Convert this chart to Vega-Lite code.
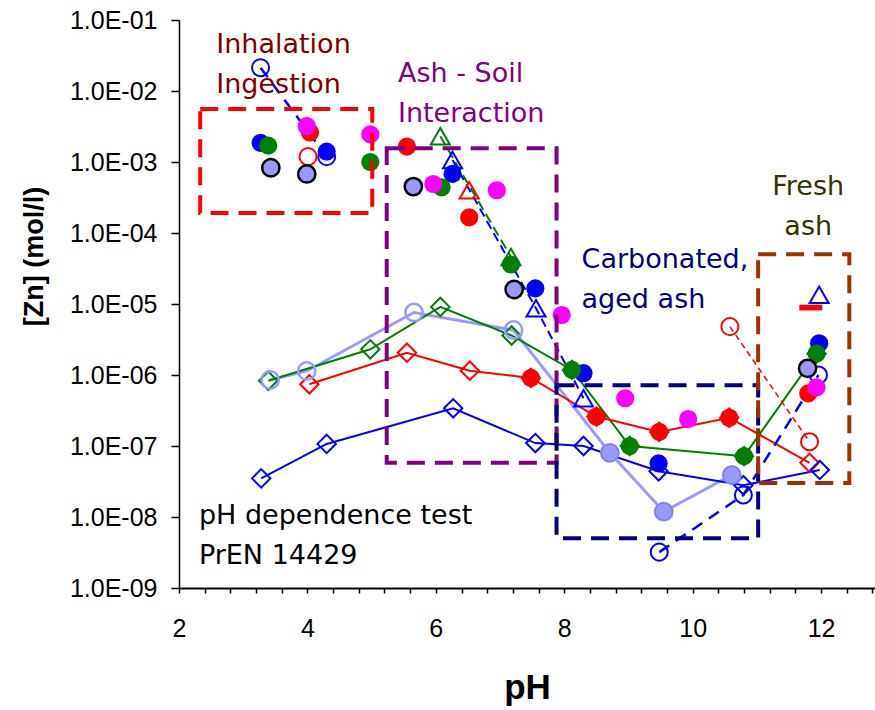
{
  "$schema": "https://vega.github.io/schema/vega-lite/v6.json",
  "width": 696,
  "height": 568,
  "autosize": {"type": "none"},
  "padding": {"left": 179, "top": 20, "right": 0, "bottom": 122},
  "background": "white",
  "config": {"view": {"stroke": null}, "font": "Liberation Sans"},
  "resolve": {"scale": {"color": "independent", "stroke": "independent"}},
  "datasets": {
    "obs": [
      {"series": "red_diamond", "seg": "a", "pH": 4.03, "zn": 7.4e-7},
      {"series": "red_diamond", "seg": "a", "pH": 5.55, "zn": 2.06e-6},
      {"series": "red_diamond", "seg": "a", "pH": 6.53, "zn": 1.15e-6},
      {"series": "red_diamond", "seg": "a", "pH": 7.48, "zn": 9.1e-7},
      {"series": "red_diamond", "seg": "a", "pH": 8.50, "zn": 2.6e-7},
      {"series": "red_diamond", "seg": "a", "pH": 9.48, "zn": 1.58e-7},
      {"series": "red_diamond", "seg": "a", "pH": 10.57, "zn": 2.5e-7},
      {"series": "red_diamond", "seg": "a", "pH": 11.82, "zn": 5.8e-8},
      {"series": "green_diamond", "seg": "a", "pH": 3.39, "zn": 8.3e-7},
      {"series": "green_diamond", "seg": "a", "pH": 4.98, "zn": 2.3e-6},
      {"series": "green_diamond", "seg": "a", "pH": 6.07, "zn": 9.1e-6},
      {"series": "green_diamond", "seg": "a", "pH": 7.18, "zn": 3.6e-6},
      {"series": "green_diamond", "seg": "a", "pH": 8.12, "zn": 1.18e-6},
      {"series": "green_diamond", "seg": "a", "pH": 9.02, "zn": 1.0e-7},
      {"series": "green_diamond", "seg": "a", "pH": 10.80, "zn": 7.2e-8},
      {"series": "green_diamond", "seg": "a", "pH": 11.93, "zn": 2.0e-6},
      {"series": "blue_diamond", "seg": "a", "pH": 3.28, "zn": 3.5e-8},
      {"series": "blue_diamond", "seg": "a", "pH": 4.30, "zn": 1.07e-7},
      {"series": "blue_diamond", "seg": "a", "pH": 6.27, "zn": 3.4e-7},
      {"series": "blue_diamond", "seg": "a", "pH": 7.55, "zn": 1.1e-7},
      {"series": "blue_diamond", "seg": "a", "pH": 8.30, "zn": 1.0e-7},
      {"series": "blue_diamond", "seg": "a", "pH": 9.47, "zn": 4.4e-8},
      {"series": "blue_diamond", "seg": "a", "pH": 10.79, "zn": 2.8e-8},
      {"series": "blue_diamond", "seg": "a", "pH": 11.98, "zn": 4.6e-8},
      {"series": "lavender_open", "seg": "a", "pH": 3.42, "zn": 8.5e-7},
      {"series": "lavender_open", "seg": "a", "pH": 3.99, "zn": 1.14e-6},
      {"series": "lavender_open", "seg": "a", "pH": 5.66, "zn": 7.6e-6},
      {"series": "lavender_open", "seg": "a", "pH": 7.21, "zn": 4.3e-6},
      {"series": "lavender_open", "seg": "a", "pH": 8.71, "zn": 8.0e-8},
      {"series": "lavender_open", "seg": "a", "pH": 9.55, "zn": 1.19e-8},
      {"series": "lavender_open", "seg": "a", "pH": 10.61, "zn": 3.9e-8},
      {"series": "lavender_filled", "seg": "a", "pH": 8.71, "zn": 8.0e-8},
      {"series": "lavender_filled", "seg": "a", "pH": 9.55, "zn": 1.19e-8},
      {"series": "lavender_filled", "seg": "a", "pH": 10.61, "zn": 3.9e-8},
      {"series": "blue_open_circle", "seg": "a", "pH": 3.27, "zn": 2.13e-2},
      {"series": "blue_open_circle", "seg": "a", "pH": 4.30, "zn": 1.19e-3},
      {"series": "blue_open_circle", "seg": "b", "pH": 9.48, "zn": 3.2e-9},
      {"series": "blue_open_circle", "seg": "b", "pH": 10.79, "zn": 2.04e-8},
      {"series": "blue_open_circle", "seg": "b", "pH": 11.96, "zn": 1.0e-6},
      {"series": "red_open_circle", "seg": "a", "pH": 4.01, "zn": 1.19e-3},
      {"series": "red_open_circle", "seg": "b", "pH": 10.58, "zn": 4.8e-6},
      {"series": "red_open_circle", "seg": "b", "pH": 11.82, "zn": 1.15e-7},
      {"series": "blue_triangle", "seg": "a", "pH": 6.26, "zn": 1.07e-3},
      {"series": "blue_triangle", "seg": "a", "pH": 7.56, "zn": 8.7e-6},
      {"series": "blue_triangle", "seg": "a", "pH": 8.30, "zn": 4.7e-7},
      {"series": "blue_triangle", "seg": "b", "pH": 11.97, "zn": 1.35e-5},
      {"series": "green_triangle", "seg": "a", "pH": 6.07, "zn": 2.3e-3},
      {"series": "green_triangle", "seg": "a", "pH": 7.17, "zn": 4.6e-5},
      {"series": "red_triangle", "seg": "a", "pH": 6.52, "zn": 4.0e-4},
      {"series": "red_dash", "seg": "a", "pH": 11.84, "zn": 8.9e-6},
      {"series": "blue_filled", "seg": "a", "pH": 3.27, "zn": 1.86e-3},
      {"series": "blue_filled", "seg": "a", "pH": 4.30, "zn": 1.4e-3},
      {"series": "blue_filled", "seg": "a", "pH": 6.26, "zn": 6.8e-4},
      {"series": "blue_filled", "seg": "a", "pH": 7.55, "zn": 1.66e-5},
      {"series": "blue_filled", "seg": "a", "pH": 8.30, "zn": 1.06e-6},
      {"series": "blue_filled", "seg": "a", "pH": 9.47, "zn": 5.7e-8},
      {"series": "blue_filled", "seg": "a", "pH": 11.97, "zn": 2.8e-6},
      {"series": "green_filled", "seg": "a", "pH": 3.39, "zn": 1.7e-3},
      {"series": "green_filled", "seg": "a", "pH": 4.98, "zn": 1.0e-3},
      {"series": "green_filled", "seg": "a", "pH": 6.09, "zn": 4.4e-4},
      {"series": "green_filled", "seg": "a", "pH": 7.17, "zn": 3.6e-5},
      {"series": "green_filled", "seg": "a", "pH": 8.12, "zn": 1.18e-6},
      {"series": "green_filled", "seg": "a", "pH": 9.02, "zn": 1.0e-7},
      {"series": "green_filled", "seg": "a", "pH": 10.80, "zn": 7.2e-8},
      {"series": "green_filled", "seg": "a", "pH": 11.93, "zn": 2.0e-6},
      {"series": "red_filled", "seg": "a", "pH": 4.04, "zn": 2.6e-3},
      {"series": "red_filled", "seg": "a", "pH": 5.55, "zn": 1.65e-3},
      {"series": "red_filled", "seg": "a", "pH": 6.52, "zn": 1.66e-4},
      {"series": "red_filled", "seg": "a", "pH": 7.48, "zn": 9.1e-7},
      {"series": "red_filled", "seg": "a", "pH": 8.50, "zn": 2.6e-7},
      {"series": "red_filled", "seg": "a", "pH": 9.48, "zn": 1.58e-7},
      {"series": "red_filled", "seg": "a", "pH": 10.57, "zn": 2.5e-7},
      {"series": "red_filled", "seg": "a", "pH": 11.80, "zn": 5.5e-7},
      {"series": "lavender_black", "seg": "a", "pH": 3.43, "zn": 8.3e-4},
      {"series": "lavender_black", "seg": "a", "pH": 3.99, "zn": 6.8e-4},
      {"series": "lavender_black", "seg": "a", "pH": 5.65, "zn": 4.5e-4},
      {"series": "lavender_black", "seg": "a", "pH": 7.22, "zn": 1.6e-5},
      {"series": "lavender_black", "seg": "a", "pH": 11.79, "zn": 1.24e-6},
      {"series": "magenta", "seg": "a", "pH": 3.99, "zn": 3.2e-3},
      {"series": "magenta", "seg": "a", "pH": 4.98, "zn": 2.45e-3},
      {"series": "magenta", "seg": "a", "pH": 5.96, "zn": 4.9e-4},
      {"series": "magenta", "seg": "a", "pH": 6.95, "zn": 4.0e-4},
      {"series": "magenta", "seg": "a", "pH": 7.96, "zn": 7.0e-6},
      {"series": "magenta", "seg": "a", "pH": 8.95, "zn": 4.7e-7},
      {"series": "magenta", "seg": "a", "pH": 9.93, "zn": 2.4e-7},
      {"series": "magenta", "seg": "a", "pH": 11.93, "zn": 6.7e-7}
    ],
    "boxes": [
      {"box": "Inhalation", "x1": 2.33, "x2": 5.01, "y1": 5.6e-3, "y2": 1.91e-4},
      {"box": "Ash-Soil", "x1": 5.235, "x2": 7.88, "y1": 1.56e-3, "y2": 5.8e-8},
      {"box": "Carbonated", "x1": 7.88, "x2": 11.02, "y1": 7.2e-7, "y2": 5.0e-9},
      {"box": "Fresh", "x1": 11.02, "x2": 12.44, "y1": 5.0e-5, "y2": 3.0e-8}
    ],
    "notes": [
      {"note": "Inhalation", "text": "Inhalation\nIngestion", "pH": 2.58, "zn": 3.4e-2},
      {"note": "Ash-Soil", "text": "Ash - Soil\nInteraction", "pH": 5.41, "zn": 1.35e-2},
      {"note": "Carbonated", "text": "Carbonated,\naged ash", "pH": 8.27, "zn": 3.18e-5},
      {"note": "Test", "text": "pH dependence test\nPrEN 14429", "pH": 2.31, "zn": 7.9e-9}
    ],
    "notesCenter": [
      {"note": "Fresh", "text": "Fresh\nash", "pH": 11.80, "zn": 3.43e-4}
    ]
  },
  "encoding": {
    "x": {
      "field": "pH", "type": "quantitative",
      "scale": {"domain": [2, 12.84], "nice": false, "zero": false},
      "axis": {
        "title": "pH",
        "values": [2, 2.4, 2.8, 3.2, 3.6, 4, 4.4, 4.8, 5.2, 5.6, 6, 6.4, 6.8, 7.2, 7.6, 8, 8.4, 8.8, 9.2, 9.6, 10, 10.4, 10.8, 11.2, 11.6, 12, 12.4, 12.8],
        "labelExpr": "datum.value % 2 === 0 ? format(datum.value, 'd') : ''",
        "labelOverlap": false,
        "labelFlush": false,
        "grid": false,
        "domainColor": "black",
        "domainWidth": 2,
        "tickColor": "black",
        "tickWidth": 1.5,
        "tickSize": 5,
        "labelFont": "Liberation Sans",
        "labelFontSize": 25,
        "labelColor": "black",
        "labelBaseline": "alphabetic",
        "labelPadding": 43,
        "titleFont": "Liberation Sans",
        "titleFontSize": 35,
        "titleFontWeight": "bold",
        "titleColor": "black",
        "titleBaseline": "alphabetic",
        "titleAnchor": "middle",
        "titleX": 348,
        "titleY": 110
      }
    },
    "y": {
      "field": "zn", "type": "quantitative",
      "scale": {"type": "log", "domain": [1e-9, 0.1], "nice": false},
      "axis": {
        "title": "[Zn] (mol/l)",
        "values": [1e-9, 1e-8, 1e-7, 1e-6, 1e-5, 1e-4, 1e-3, 1e-2, 1e-1],
        "labelExpr": "'1.0E-0' + (-round(log(datum.value) / LN10))",
        "labelOverlap": false,
        "grid": false,
        "domainColor": "black",
        "domainWidth": 1.5,
        "tickColor": "black",
        "tickWidth": 1.5,
        "tickSize": 8,
        "labelFont": "Liberation Sans",
        "labelFontSize": 25,
        "labelColor": "black",
        "labelPadding": 14,
        "titleFont": "Liberation Sans",
        "titleFontSize": 27,
        "titleFontWeight": "bold",
        "titleColor": "black",
        "titleAngle": -90,
        "titleAlign": "center",
        "titleBaseline": "alphabetic",
        "titleX": -137,
        "titleY": 236
      }
    }
  },
  "layer": [
    {
      "mark": {"type": "rule", "color": "#808080", "strokeWidth": 2},
      "encoding": {"y": {"datum": 0.1}, "x": {"datum": 2}, "x2": {"datum": 12.84}}
    },
    {
      "data": {"name": "obs"},
      "transform": [{"filter": "datum.series === 'lavender_open'"}],
      "mark": {"type": "line", "color": "#9999FF", "strokeWidth": 3}
    },
    {
      "data": {"name": "obs"},
      "transform": [{"filter": "datum.series === 'green_diamond'"}],
      "mark": {"type": "line", "color": "#008000", "strokeWidth": 2}
    },
    {
      "data": {"name": "obs"},
      "transform": [{"filter": "datum.series === 'red_diamond'"}],
      "mark": {"type": "line", "color": "#FF0000", "strokeWidth": 2}
    },
    {
      "data": {"name": "obs"},
      "transform": [{"filter": "datum.series === 'blue_diamond'"}],
      "mark": {"type": "line", "color": "#0000FF", "strokeWidth": 2}
    },
    {
      "data": {"name": "obs"},
      "transform": [{"filter": "datum.series === 'green_triangle'"}],
      "mark": {"type": "line", "color": "#008000", "strokeWidth": 2, "strokeDash": [10, 5]}
    },
    {
      "data": {"name": "obs"},
      "transform": [{"filter": "datum.series === 'blue_triangle'"}],
      "mark": {"type": "line", "color": "#0000FF", "strokeWidth": 2, "strokeDash": [9, 5]},
      "encoding": {"detail": {"field": "seg"}}
    },
    {
      "data": {"name": "obs"},
      "transform": [{"filter": "datum.series === 'blue_open_circle'"}],
      "mark": {"type": "line", "color": "#0000FF", "strokeWidth": 2.5, "strokeDash": [12, 8]},
      "encoding": {"detail": {"field": "seg"}}
    },
    {
      "data": {"name": "obs"},
      "transform": [{"filter": "datum.series === 'red_open_circle'"}],
      "mark": {"type": "line", "color": "#FF0000", "strokeWidth": 1.5, "strokeDash": [6, 4]},
      "encoding": {"detail": {"field": "seg"}}
    },
    {
      "data": {"name": "obs"},
      "transform": [{"filter": "datum.series === 'red_diamond'"}],
      "mark": {"type": "point", "shape": "diamond", "filled": false, "size": 340, "strokeWidth": 2, "color": "#FF0000", "opacity": 1}
    },
    {
      "data": {"name": "obs"},
      "transform": [{"filter": "datum.series === 'green_diamond'"}],
      "mark": {"type": "point", "shape": "diamond", "filled": false, "size": 340, "strokeWidth": 2, "color": "#008000", "opacity": 1}
    },
    {
      "data": {"name": "obs"},
      "transform": [{"filter": "datum.series === 'blue_diamond'"}],
      "mark": {"type": "point", "shape": "diamond", "filled": false, "size": 340, "strokeWidth": 2, "color": "#0000FF", "opacity": 1}
    },
    {
      "data": {"name": "obs"},
      "transform": [{"filter": "datum.series === 'lavender_open'"}],
      "mark": {"type": "point", "shape": "circle", "filled": false, "size": 300, "strokeWidth": 2.5, "color": "#9999FF", "opacity": 1}
    },
    {
      "data": {"name": "obs"},
      "transform": [{"filter": "datum.series === 'lavender_filled'"}],
      "mark": {"type": "point", "shape": "circle", "filled": true, "size": 300, "fill": "#9999FF", "stroke": "#7F7FE0", "strokeWidth": 1.5, "opacity": 1, "fillOpacity": 1}
    },
    {
      "data": {"name": "obs"},
      "transform": [{"filter": "datum.series === 'blue_open_circle'"}],
      "mark": {"type": "point", "shape": "circle", "filled": false, "size": 290, "strokeWidth": 2, "color": "#0000FF", "opacity": 1}
    },
    {
      "data": {"name": "obs"},
      "transform": [{"filter": "datum.series === 'red_open_circle'"}],
      "mark": {"type": "point", "shape": "circle", "filled": false, "size": 290, "strokeWidth": 2, "color": "#FF0000", "opacity": 1}
    },
    {
      "data": {"name": "obs"},
      "transform": [{"filter": "datum.series === 'blue_triangle'"}],
      "mark": {"type": "point", "shape": "triangle-up", "filled": false, "size": 360, "strokeWidth": 2, "color": "#0000FF", "opacity": 1}
    },
    {
      "data": {"name": "obs"},
      "transform": [{"filter": "datum.series === 'green_triangle'"}],
      "mark": {"type": "point", "shape": "triangle-up", "filled": false, "size": 360, "strokeWidth": 2, "color": "#008000", "opacity": 1}
    },
    {
      "data": {"name": "obs"},
      "transform": [{"filter": "datum.series === 'red_triangle'"}],
      "mark": {"type": "point", "shape": "triangle-up", "filled": false, "size": 360, "strokeWidth": 2, "color": "#FF0000", "opacity": 1}
    },
    {
      "data": {"name": "obs"},
      "transform": [{"filter": "datum.series === 'red_dash'"}],
      "mark": {"type": "point", "shape": "M-1,-0.25H1V0.25H-1Z", "filled": true, "size": 529, "fill": "#FF0000", "strokeWidth": 0, "opacity": 1, "fillOpacity": 1}
    },
    {
      "data": {"name": "obs"},
      "transform": [{"filter": "datum.series === 'blue_filled'"}],
      "mark": {"type": "point", "shape": "circle", "filled": true, "size": 330, "fill": "#0000FF", "strokeWidth": 0, "opacity": 1, "fillOpacity": 1}
    },
    {
      "data": {"name": "obs"},
      "transform": [{"filter": "datum.series === 'green_filled'"}],
      "mark": {"type": "point", "shape": "circle", "filled": true, "size": 330, "fill": "#008000", "strokeWidth": 0, "opacity": 1, "fillOpacity": 1}
    },
    {
      "data": {"name": "obs"},
      "transform": [{"filter": "datum.series === 'red_filled'"}],
      "mark": {"type": "point", "shape": "circle", "filled": true, "size": 330, "fill": "#FF0000", "strokeWidth": 0, "opacity": 1, "fillOpacity": 1}
    },
    {
      "data": {"name": "obs"},
      "transform": [{"filter": "datum.series === 'lavender_black'"}],
      "mark": {"type": "point", "shape": "circle", "filled": true, "size": 300, "fill": "#9999FF", "stroke": "black", "strokeWidth": 2.5, "opacity": 1, "fillOpacity": 1}
    },
    {
      "data": {"name": "obs"},
      "transform": [{"filter": "datum.series === 'magenta'"}],
      "mark": {"type": "point", "shape": "circle", "filled": true, "size": 330, "fill": "#FF00FF", "strokeWidth": 0, "opacity": 1, "fillOpacity": 1}
    },
    {
      "data": {"name": "boxes"},
      "mark": {"type": "rect", "filled": false, "strokeWidth": 4, "strokeDash": [18, 10]},
      "encoding": {
        "x": {"field": "x1", "type": "quantitative"},
        "x2": {"field": "x2"},
        "y": {"field": "y1", "type": "quantitative"},
        "y2": {"field": "y2"},
        "stroke": {"field": "box", "type": "nominal", "legend": null,
          "scale": {"domain": ["Inhalation", "Ash-Soil", "Carbonated", "Fresh"], "range": ["#FF0000", "#800080", "#000080", "#993300"]}}
      }
    },
    {
      "data": {"name": "notes"},
      "mark": {"type": "text", "font": "DejaVu Sans", "fontSize": 27, "align": "left", "baseline": "alphabetic", "lineBreak": "\n", "lineHeight": 40},
      "encoding": {
        "text": {"field": "text"},
        "color": {"field": "note", "type": "nominal", "legend": null,
          "scale": {"domain": ["Inhalation", "Ash-Soil", "Carbonated", "Test"], "range": ["#800000", "#800080", "#000080", "#000000"]}}
      }
    },
    {
      "data": {"name": "notesCenter"},
      "mark": {"type": "text", "font": "DejaVu Sans", "fontSize": 27, "align": "center", "baseline": "alphabetic", "lineBreak": "\n", "lineHeight": 40, "color": "#333300"},
      "encoding": {"text": {"field": "text"}}
    }
  ]
}
